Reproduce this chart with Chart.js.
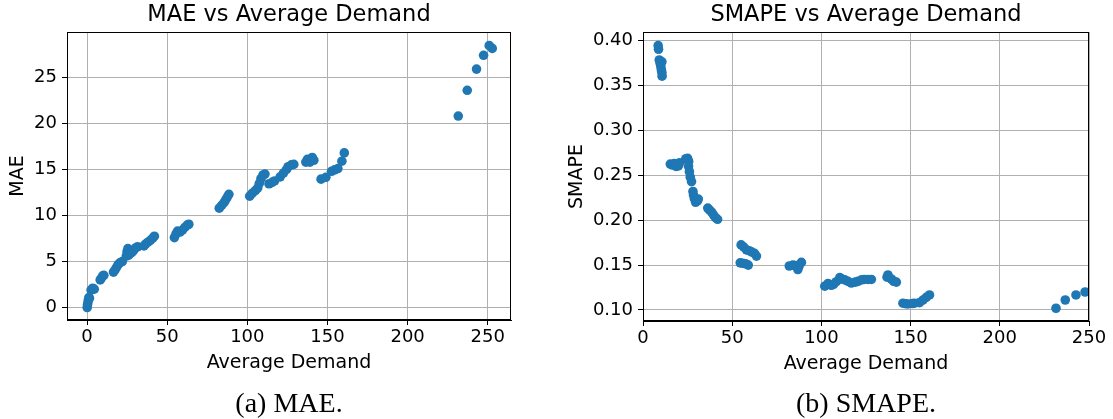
<!DOCTYPE html>
<html>
<head>
<meta charset="utf-8">
<script src="https://cdn.jsdelivr.net/npm/chart.js@4.4.1/dist/chart.umd.min.js"></script>
<style>
  html, body { margin: 0; padding: 0; background: #fff; }
  #wrap { position: relative; width: 1113px; height: 419px; overflow: hidden; }
  canvas { position: absolute; top: 0; }
  #maeCanvas { left: 0; width: 520px; height: 419px; }
  #smapeCanvas { left: 560px; width: 553px; height: 419px; }
</style>
</head>
<body>
<div id="wrap">
  <canvas id="maeCanvas" width="520" height="419"></canvas>
  <canvas id="smapeCanvas" width="553" height="419"></canvas>
</div>
<script>
// Per-item average demand and the MAE measured for it
const maeDemand = [0.1, 0.3, 0.6, 0.9, 1.2, 1.5, 2.5, 3.5, 4.5, 8.2, 9.0, 9.8, 10.5,
  16.5, 17.5, 18.5, 19.5, 20.8, 22.0, 24.5, 25.0, 25.5, 26.0, 27.0, 28.0, 29.0, 30.5, 31.5,
  35.5, 36.5, 38.0, 39.5, 41.0, 42.0, 54.5, 55.5, 56.5, 58.0, 59.5, 61.0, 62.5, 63.5,
  82.5, 84.0, 85.5, 86.5, 87.5, 88.5, 101.5, 103.0, 105.0, 106.5, 107.5, 108.5, 109.8, 111.0,
  113.5, 115.5, 117.0, 120.5, 122.5, 124.5, 125.5, 127.5, 129.0, 136.5, 137.5, 139.0, 140.5, 141.5,
  146.0, 149.0, 152.5, 154.5, 156.5, 159.0, 160.5, 231.6, 237.2, 243.0, 247.4, 250.9, 252.8];
const maeValues = [0.0, 0.3, 0.6, 0.9, 1.1, 1.0, 1.9, 2.1, 2.0, 3.0, 3.2, 3.45, 3.5,
  3.85, 4.1, 4.4, 4.7, 4.9, 5.0, 5.6, 6.1, 6.4, 5.7, 5.9, 6.0, 6.2, 6.5, 6.6,
  6.7, 6.9, 7.1, 7.3, 7.55, 7.75, 7.6, 8.0, 8.3, 8.2, 8.4, 8.7, 8.95, 9.05,
  10.8, 11.1, 11.4, 11.7, 12.0, 12.3, 12.1, 12.4, 12.7, 13.0, 13.5, 14.0, 14.4, 14.5,
  13.45, 13.6, 13.75, 14.2, 14.6, 15.0, 15.3, 15.5, 15.55, 15.8, 16.1, 15.8, 16.3, 16.0,
  13.95, 14.15, 14.8, 14.95, 15.1, 15.9, 16.8, 20.8, 23.6, 25.9, 27.4, 28.45, 28.15];

// Per-item average demand and the SMAPE measured for it
const smapeDemand = [8.5, 8.7, 9.1, 9.6, 10.6, 10.0, 10.3, 10.6, 10.7,
  15.3, 16.5, 17.5, 18.5, 19.8, 20.5, 24.0, 25.0, 25.6, 25.5, 26.0, 26.5, 27.2, 28.0, 28.3, 28.8,
  29.5, 30.5, 31.0, 36.3, 37.2, 38.5, 39.5, 40.6, 41.8,
  55.0, 56.5, 58.0, 59.5, 61.0, 62.5, 63.6, 54.5, 56.0, 57.5, 59.0,
  82.0, 84.0, 85.5, 86.8, 87.5, 88.8,
  101.9, 103.7, 105.5, 106.8, 108.4, 110.3, 111.5, 113.1, 114.9, 116.8, 119.0, 120.5, 122.5, 124.0,
  126.1, 128.0, 136.8, 137.3, 139.2, 140.5, 142.0,
  145.7, 147.2, 148.5, 151.0, 152.2, 155.0, 156.9, 158.8, 160.6,
  231.5, 236.7, 242.7, 247.8, 250.9];
const smapeValues = [0.3945, 0.3905, 0.3785, 0.3745, 0.3765, 0.371, 0.3675, 0.3645, 0.3605,
  0.2625, 0.2615, 0.2630, 0.2600, 0.2605, 0.2640, 0.2685, 0.2690, 0.2655, 0.2600, 0.2540, 0.2480, 0.2430, 0.2320, 0.2280, 0.2240,
  0.2200, 0.2215, 0.2235, 0.2135, 0.2115, 0.2090, 0.2060, 0.2030, 0.2010,
  0.1725, 0.1700, 0.1670, 0.1660, 0.1645, 0.1630, 0.1600, 0.1525, 0.1520, 0.1515, 0.1500,
  0.1490, 0.1500, 0.1495, 0.1450, 0.1490, 0.1530,
  0.1265, 0.1295, 0.1275, 0.1285, 0.1315, 0.1360, 0.1345, 0.1335, 0.1318, 0.1300, 0.1310, 0.1318, 0.1335, 0.1340,
  0.1340, 0.1340, 0.1365, 0.1390, 0.1345, 0.1320, 0.1310,
  0.1075, 0.1070, 0.1067, 0.1072, 0.1075, 0.1082, 0.1110, 0.1140, 0.1167,
  0.1019, 0.1111, 0.1167, 0.1200, 0.1204];

// Tick positions
const demandTicks = [0, 50, 100, 150, 200, 250];
const maeTicks = [0, 5, 10, 15, 20, 25];
const smapeTicks = [0.10, 0.15, 0.20, 0.25, 0.30, 0.35, 0.40];

const FONT = "'DejaVu Sans', 'Liberation Sans', sans-serif";
const SERIF = "'Liberation Serif', 'DejaVu Serif', serif";
const BLUE = '#1f77b4';

Chart.defaults.color = '#000';
Chart.defaults.font.family = FONT;

// Closes the plot box on all four sides
const frameBox = {
  id: 'frameBox',
  afterDraw(chart) {
    const { ctx, chartArea: a } = chart;
    ctx.save();
    ctx.strokeStyle = '#000';
    ctx.lineWidth = 1;
    ctx.strokeRect(a.left + 0.5, a.top + 0.5, a.right - a.left - 1, a.bottom - a.top - 1);
    ctx.restore();
  }
};

function fixedTicks(values) {
  return scale => { scale.ticks = values.map(v => ({ value: v })); };
}

function makeScatter(canvas, cfg) {
  const points = cfg.xs.map((x, i) => ({ x: x, y: cfg.ys[i] }));
  return new Chart(canvas, {
    type: 'scatter',
    data: {
      datasets: [{
        data: points,
        backgroundColor: BLUE,
        borderColor: BLUE,
        borderWidth: 0,
        pointRadius: 4.8,
        pointHoverRadius: 4.8,
        clip: 0
      }]
    },
    options: {
      responsive: false,
      animation: false,
      devicePixelRatio: 1,
      layout: { padding: cfg.padding },
      plugins: {
        legend: { display: false },
        tooltip: { enabled: false },
        title: {
          display: true,
          text: cfg.title,
          fullSize: false,
          font: { family: FONT, size: 22.5, weight: 'normal', lineHeight: 1.2 },
          color: '#000',
          padding: { top: 2, bottom: 3 }
        },
        subtitle: {
          display: true,
          position: 'bottom',
          text: cfg.caption,
          fullSize: false,
          font: { family: SERIF, size: 28, weight: 'normal', lineHeight: 1.0 },
          color: '#000',
          padding: { top: cfg.captionPad, bottom: 0 }
        }
      },
      scales: {
        x: {
          type: 'linear',
          min: cfg.xMin,
          max: cfg.xMax,
          afterBuildTicks: fixedTicks(demandTicks),
          afterFit: s => { s.height = 58; },
          ticks: { autoSkip: false, maxRotation: 0, padding: 2, font: { size: 18 }, color: '#000' },
          grid: { color: '#b0b0b0', lineWidth: 1, drawTicks: true, tickLength: 5, tickColor: '#000' },
          border: { display: true, color: '#000', width: 1 },
          title: {
            display: true, text: 'Average Demand', color: '#000',
            font: { size: 19, lineHeight: 1.2 }, padding: { top: 0, bottom: 3.6 }
          }
        },
        y: {
          type: 'linear',
          min: cfg.yMin,
          max: cfg.yMax,
          afterBuildTicks: fixedTicks(cfg.yTicks),
          afterFit: s => { s.width = cfg.yWidth; },
          ticks: { autoSkip: false, padding: 5, font: { size: 18 }, color: '#000', callback: cfg.yFormat },
          grid: { color: '#b0b0b0', lineWidth: 1, drawTicks: true, tickLength: 5, tickColor: '#000' },
          border: { display: true, color: '#000', width: 1 },
          title: {
            display: true, text: cfg.yLabel, color: '#000',
            font: { size: 19, lineHeight: 1.2 }, padding: { top: cfg.yTitlePad, bottom: 0 }
          }
        }
      }
    },
    plugins: [frameBox]
  });
}

makeScatter(document.getElementById('maeCanvas'), {
  xs: maeDemand, ys: maeValues,
  title: 'MAE vs Average Demand', caption: '(a) MAE.', captionPad: 13,
  xMin: -12.5, xMax: 264.5, yMin: -1.35, yMax: 29.93,
  yTicks: maeTicks, yLabel: 'MAE', yWidth: 67, yTitlePad: 6.6,
  yFormat: v => String(v),
  padding: { top: 0, right: 9, bottom: 0, left: 0 }
});

makeScatter(document.getElementById('smapeCanvas'), {
  xs: smapeDemand, ys: smapeValues,
  title: 'SMAPE vs Average Demand', caption: '(b) SMAPE.', captionPad: 12,
  xMin: 0, xMax: 250, yMin: 0.0877, yMax: 0.4097,
  yTicks: smapeTicks, yLabel: 'SMAPE', yWidth: 83, yTitlePad: 5.6,
  yFormat: v => v.toFixed(2),
  padding: { top: 0, right: 24, bottom: 0, left: 0 }
});
</script>
</body>
</html>
